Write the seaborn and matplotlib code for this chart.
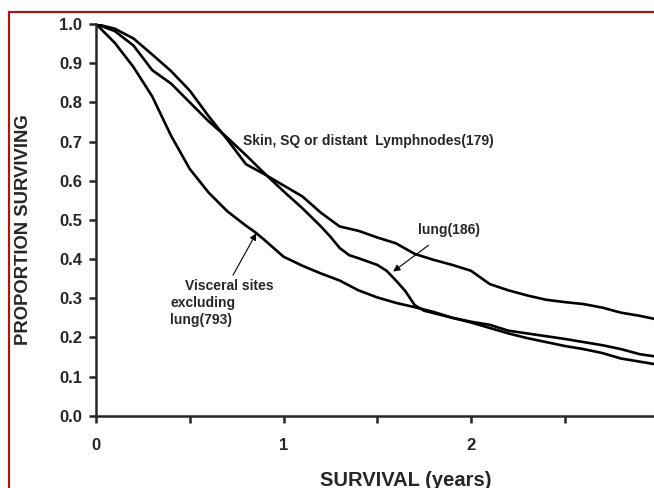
import numpy as np
import pandas as pd
import matplotlib
matplotlib.use("Agg")
import matplotlib.pyplot as plt
import matplotlib.patches as patches
import seaborn as sns

# Survival curves (years, proportion surviving)
skin_years = [0, 0.1, 0.2, 0.3, 0.4, 0.5, 0.6, 0.7, 0.8, 0.9, 1.0, 1.1, 1.2, 1.3, 1.4, 1.5,
              1.6, 1.7, 1.8, 1.9, 2.0, 2.1, 2.2, 2.3, 2.4, 2.5, 2.6, 2.7, 2.8, 2.9, 3.0]
skin_surv = [1.0, 0.988, 0.963, 0.922, 0.88, 0.83, 0.765, 0.705, 0.642, 0.616, 0.588, 0.56,
             0.518, 0.483, 0.472, 0.455, 0.44, 0.413, 0.398, 0.385, 0.37, 0.336, 0.32, 0.307,
             0.296, 0.29, 0.285, 0.276, 0.263, 0.255, 0.245]

lung_years = [0, 0.1, 0.2, 0.3, 0.4, 0.5, 0.6, 0.7, 0.8, 0.9, 1.0, 1.1, 1.2, 1.25, 1.3, 1.35,
              1.4, 1.5, 1.55, 1.6, 1.65, 1.7, 1.75, 1.8, 1.9, 2.0, 2.1, 2.2, 2.3, 2.4, 2.5,
              2.6, 2.7, 2.8, 2.9, 3.0]
lung_surv = [1.0, 0.982, 0.945, 0.882, 0.848, 0.80, 0.752, 0.71, 0.665, 0.618, 0.573, 0.53,
             0.483, 0.457, 0.428, 0.41, 0.402, 0.385, 0.37, 0.345, 0.318, 0.282, 0.268, 0.262,
             0.25, 0.24, 0.232, 0.217, 0.21, 0.203, 0.196, 0.188, 0.18, 0.17, 0.157, 0.15]

visc_years = [0, 0.1, 0.2, 0.3, 0.4, 0.5, 0.6, 0.7, 0.8, 0.85, 0.9, 1.0, 1.1, 1.2, 1.3, 1.4,
              1.5, 1.6, 1.7, 1.8, 1.9, 2.0, 2.1, 2.2, 2.3, 2.4, 2.5, 2.6, 2.7, 2.8, 2.9, 3.0]
visc_surv = [1.0, 0.952, 0.89, 0.815, 0.715, 0.63, 0.57, 0.522, 0.485, 0.468, 0.448, 0.406,
             0.383, 0.363, 0.345, 0.32, 0.302, 0.288, 0.277, 0.265, 0.25, 0.238, 0.224, 0.21,
             0.198, 0.188, 0.178, 0.17, 0.16, 0.146, 0.138, 0.13]

groups = ["Skin, SQ or distant  Lymphnodes(179)", "lung(186)", "Visceral sites excluding lung(793)"]

df = pd.concat([
    pd.DataFrame({"years": skin_years, "surv": skin_surv, "group": groups[0]}),
    pd.DataFrame({"years": lung_years, "surv": lung_surv, "group": groups[1]}),
    pd.DataFrame({"years": visc_years, "surv": visc_surv, "group": groups[2]}),
])

sns.set_style("ticks")
plt.rcParams["font.family"] = ["Liberation Sans", "DejaVu Sans"]

fig = plt.figure(figsize=(6.54, 4.88), dpi=100)
# axes runs past the right edge, the original image is a crop
ax = fig.add_axes([96 / 654, 72.3 / 488, 618.75 / 654, 391.7 / 488])

sns.lineplot(data=df, x="years", y="surv", hue="group", units="group", estimator=None,
             palette=["black", "black", "black"], linewidth=1.9, legend=False, ax=ax)

ax.set_xlim(0, 3.3)
ax.set_ylim(0, 1.0)
ax.set_xticks([0, 1, 2, 3])
ax.set_xticks([0.5, 1.5, 2.5], minor=True)
ax.set_yticks(np.arange(0, 1.01, 0.1))
ax.set_yticklabels([f"{v:.1f}" for v in np.arange(0, 1.01, 0.1)])
ax.tick_params(axis="both", which="both", length=5, width=1.8, labelsize=12)
ax.tick_params(axis="x", which="both", pad=11)
ax.tick_params(axis="y", pad=5)
for lab in ax.get_xticklabels() + ax.get_yticklabels():
    lab.set_fontweight("bold")

sns.despine(ax=ax)
for side in ["left", "bottom"]:
    ax.spines[side].set_linewidth(1.8)

ax.set_xlabel("SURVIVAL (years)", fontsize=14.5, fontweight="bold")
ax.set_ylabel("PROPORTION SURVIVING", fontsize=13.3, fontweight="bold")
ax.xaxis.set_label_coords(0.5, -0.142)
ax.yaxis.set_label_coords(-0.103, 0.474)

# curve labels
ax.text(0.784, 0.701, "Skin, SQ or distant  Lymphnodes(179)", fontsize=10,
        fontweight="bold", va="center")
ax.annotate("lung(186)", xy=(1.585, 0.368), xytext=(1.717, 0.474), fontsize=10,
            fontweight="bold", va="center",
            arrowprops=dict(arrowstyle="-|>", color="black", lw=0.8, shrinkA=6, shrinkB=0,
                            mutation_scale=10))
ax.annotate("", xy=(0.855, 0.466), xytext=(0.731, 0.359),
            arrowprops=dict(arrowstyle="-|>", color="black", lw=0.8, shrinkA=0, shrinkB=0,
                            mutation_scale=10))
ax.text(0.475, 0.332, "Visceral sites", fontsize=10, fontweight="bold", va="center")
ax.text(0.395, 0.288, "excluding", fontsize=10, fontweight="bold", va="center")
ax.text(0.395, 0.244, "lung(793)", fontsize=10, fontweight="bold", va="center")

# dark red frame of the original figure
fig.patches.append(patches.Rectangle((8.5 / 654, -0.1), 2.0, 1.1 - 12.5 / 488,
                                     transform=fig.transFigure, fill=False,
                                     edgecolor="#9b1c1c", linewidth=1.6))

fig.savefig("out.png", dpi=100)
